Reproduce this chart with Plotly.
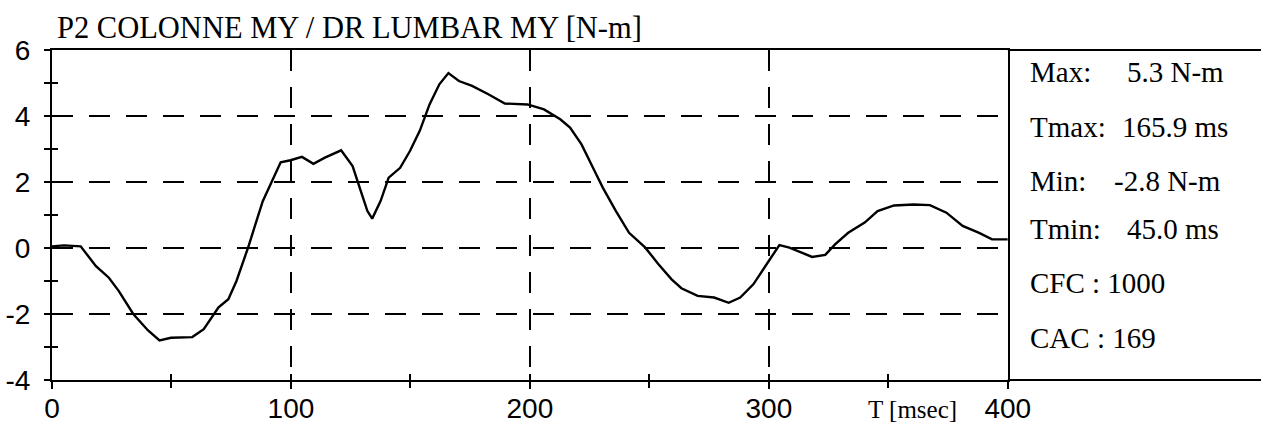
import plotly.graph_objects as go

# Lumbar spine moment, P2 dummy
time_ms = [0, 5, 12, 14.8, 18.4, 23.8, 27.9, 34, 40.2, 45, 49.8, 58.7, 63.5, 69.7, 73.8,
           77.2, 82, 88.2, 91.6, 95.7, 99.8, 104.6, 109.4, 114.2, 121, 125.8, 129.2, 132,
           134, 137.5, 140.9, 145.7, 149.8, 153.9, 158, 162.1, 165.9, 170.3, 175.8, 182.6,
           189.5, 199, 205.9, 212.7, 216.8, 221.6, 226.4, 230.5, 236, 241.5, 248.3, 253.8,
           259.3, 263.4, 270.2, 277.1, 283.2, 288, 293.5, 299, 304.4, 308.6, 314, 318.1,
           323.6, 327.7, 333.2, 340.1, 345.5, 352.4, 360.6, 367.4, 374.3, 381.1, 388,
           393.4, 400]
moment_nm = [0.05, 0.08, 0.05, -0.2, -0.55, -0.9, -1.3, -2.0, -2.5, -2.8, -2.72, -2.7,
             -2.46, -1.8, -1.55, -1.0, 0.0, 1.42, 1.98, 2.6, 2.66, 2.76, 2.55, 2.74, 2.96,
             2.48, 1.73, 1.12, 0.89, 1.42, 2.13, 2.43, 2.94, 3.55, 4.35, 4.96, 5.3, 5.06,
             4.91, 4.66, 4.38, 4.35, 4.2, 3.9, 3.65, 3.14, 2.43, 1.83, 1.12, 0.46, 0.01,
             -0.49, -0.95, -1.22, -1.45, -1.5, -1.66, -1.5, -1.1, -0.5, 0.09, 0.01, -0.14,
             -0.27, -0.21, 0.11, 0.46, 0.77, 1.12, 1.29, 1.32, 1.3, 1.07, 0.67, 0.46, 0.26,
             0.26]

x_major = [0, 100, 200, 300, 400]
x_minor = [50, 150, 250, 350]
y_major = [-4, -2, 0, 2, 4, 6]
y_minor = [-3, -1, 1, 3, 5]
y_labels = ["-4", "-2", "0", "2", "4", "6"]

title_text = "P2 COLONNE MY / DR LUMBAR MY [N-m]"
axis_title = "T [msec]"
stat_labels = ["Max:", "Tmax:", "Min:", "Tmin:", "CFC :", "CAC :"]
stat_values = ["5.3 N-m", "165.9 ms", "-2.8 N-m", "45.0 ms", "1000", "169"]

W, H = 1284, 428
ML, MR, MT, MB = 52, 0, 50, 48
PW, PH = W - ML - MR, H - MT - MB
X_END = 1026  # right edge of the trace area in pixels


def px(xp):
    return (xp - ML) / PW


def py(yp):
    return (H - MB - yp) / PH


SERIF = "Liberation Serif, Times New Roman, serif"
SANS = "Liberation Sans, Arial, sans-serif"

fig = go.Figure()
fig.add_trace(go.Scatter(x=time_ms, y=moment_nm, mode="lines",
                         line=dict(color="black", width=2.4), showlegend=False,
                         hoverinfo="skip"))
# empty trace so the overlay axes (inner half of the crossing ticks) render
fig.add_trace(go.Scatter(x=[], y=[], xaxis="x2", yaxis="y2", showlegend=False))

dom = [0, px(X_END)]
grid = dict(showgrid=True, gridcolor="black", gridwidth=1.6, griddash="21px,16px")

fig.update_layout(
    width=W, height=H,
    margin=dict(l=ML, r=MR, t=MT, b=MB),
    paper_bgcolor="white", plot_bgcolor="white",
    xaxis=dict(domain=dom, range=[0, 400], tickvals=x_major, zeroline=False,
               showline=True, mirror=True, linecolor="black", linewidth=2,
               ticks="outside", ticklen=7, tickwidth=1.5,
               tickcolor="black", ticklabelstandoff=-5,
               tickfont=dict(family=SANS, size=28, color="black"),
               minor=dict(tickvals=x_minor, ticks="outside", ticklen=6,
                          tickwidth=1.5, tickcolor="black", showgrid=False),
               **grid),
    yaxis=dict(range=[-4, 6], tickvals=y_major, ticktext=y_labels, zeroline=False,
               showline=True, mirror=True, linecolor="black", linewidth=2,
               ticks="outside", ticklen=6, tickwidth=1.5, tickcolor="black",
               ticklabelstandoff=8,
               tickfont=dict(family=SANS, size=28, color="black"),
               minor=dict(tickvals=y_minor, ticks="outside", ticklen=6,
                          tickwidth=1.5, tickcolor="black", showgrid=False),
               **grid),
    xaxis2=dict(overlaying="x", anchor="y2", range=[0, 400],
                tickvals=x_major + x_minor, ticks="inside", ticklen=6,
                tickwidth=1.5, tickcolor="black", showticklabels=False,
                showgrid=False, zeroline=False, showline=False),
    yaxis2=dict(overlaying="y", anchor="x2", range=[-4, 6],
                tickvals=y_major + y_minor, ticks="inside", ticklen=6,
                tickwidth=1.5, tickcolor="black", showticklabels=False,
                showgrid=False, zeroline=False, showline=False),
)

# top and bottom rules continue under the statistics panel
frame = dict(color="black", width=2)
for yy in (0, 1):
    fig.add_shape(type="line", xref="paper", yref="paper", x0=px(X_END), x1=1,
                  y0=yy, y1=yy, line=frame, layer="above")

fig.add_annotation(text=title_text, xref="paper", yref="paper", x=px(55), y=py(47),
                   xanchor="left", yanchor="bottom", showarrow=False,
                   font=dict(family=SERIF, size=30.5, color="black"))

fig.add_annotation(text=axis_title, xref="paper", yref="paper", x=px(929), y=py(425),
                   xanchor="center", yanchor="bottom", showarrow=False,
                   font=dict(family=SERIF, size=25, color="black"))

# statistics panel
row_y = [72, 127, 181, 229, 283, 338]
value_x = [1145, 1140, 1132, 1145, None, None]
stat_font = dict(family=SERIF, size=29, color="black")
for lab, val, yy, vx in zip(stat_labels, stat_values, row_y, value_x):
    if vx is None:
        fig.add_annotation(text=f"{lab} {val}", xref="paper", yref="paper",
                           x=px(1047), y=py(yy), xanchor="left", yanchor="middle",
                           showarrow=False, font=stat_font)
    else:
        fig.add_annotation(text=lab, xref="paper", yref="paper",
                           x=px(1047), y=py(yy), xanchor="left", yanchor="middle",
                           showarrow=False, font=stat_font)
        fig.add_annotation(text=val, xref="paper", yref="paper",
                           x=px(vx), y=py(yy), xanchor="left", yanchor="middle",
                           showarrow=False, font=stat_font)

fig.write_html("out.html")
